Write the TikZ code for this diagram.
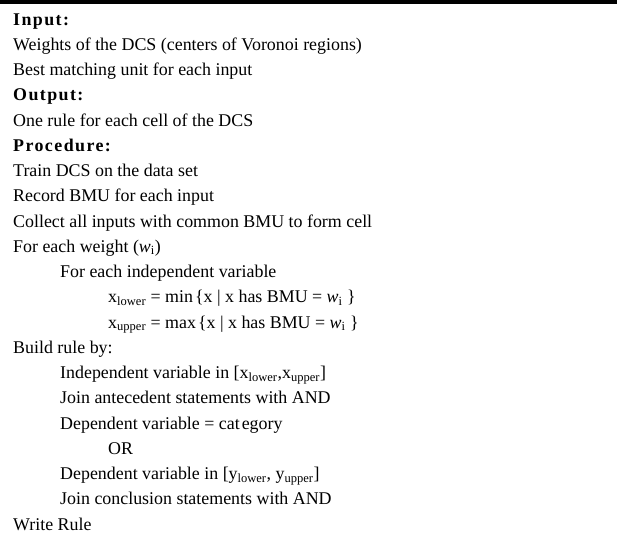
\documentclass[tikz,border=0pt]{standalone}
\usepackage{fontspec}
\setmainfont{Liberation Serif}
\newcommand\hdr[1]{{\bfseries\addfontfeature{LetterSpace=8}#1}}
\newcommand\sbs[1]{\textsubscript{#1}}
\tikzset{
  ln/.style={anchor=base west, inner sep=0pt, font=\fontsize{17.9}{20}\selectfont},
}
\begin{document}
\begin{tikzpicture}[x=1pt,y=1pt]
\useasboundingbox (0,0) rectangle (623,-542);
\fill[black] (0,0) rectangle (617,-3.8);
\def\pitch{25.25}
\def\xa{13}\def\xb{60}\def\xc{108}
\node[ln] (l0)  at (\xa,{-25-0*\pitch})  {\hdr{Input:}};
\node[ln] (l1)  at (\xa,{-25-1*\pitch})  {Weights of the DCS (centers of Voronoi regions)};
\node[ln] (l2)  at (\xa,{-25-2*\pitch})  {Best matching unit for each input};
\node[ln] (l3)  at (\xa,{-25-3*\pitch})  {\hdr{Output:}};
\node[ln] (l4)  at (\xa,{-25-4*\pitch})  {One rule for each cell of the DCS};
\node[ln] (l5)  at (\xa,{-25-5*\pitch})  {\hdr{Procedure:}};
\node[ln] (l6)  at (\xa,{-25-6*\pitch})  {Train DCS on the data set};
\node[ln] (l7)  at (\xa,{-25-7*\pitch})  {Record BMU for each input};
\node[ln] (l8)  at (\xa,{-25-8*\pitch})  {Collect all inputs with common BMU to form cell};
\node[ln] (l9)  at (\xa,{-25-9*\pitch})  {For each weight (\textit{w}\sbs{i})};
\node[ln] (l10) at (\xb,{-25-10*\pitch}) {For each independent variable};
\node[ln] (l11) at (\xc,{-25-11*\pitch}) {x\sbs{lower} = min\kern2pt\{x | x has BMU = \textit{w}\sbs{i} \}};
\node[ln] (l12) at (\xc,{-25-12*\pitch}) {x\sbs{upper} = max\kern2pt\{x | x has BMU = \textit{w}\sbs{i} \}};
\node[ln] (l13) at (\xa,{-25-13*\pitch}) {Build rule by:};
\node[ln] (l14) at (\xb,{-25-14*\pitch}) {Independent variable in [x\sbs{lower},x\sbs{upper}]};
\node[ln] (l15) at (\xb,{-25-15*\pitch}) {Join antecedent statements with AND};
\node[ln] (l16) at (\xb,{-25-16*\pitch}) {Dependent variable = cat\kern2pt egory};
\node[ln] (l17) at (\xc,{-25-17*\pitch}) {OR};
\node[ln] (l18) at (\xb,{-25-18*\pitch}) {Dependent variable in [y\sbs{lower}, y\sbs{upper}]};
\node[ln] (l19) at (\xb,{-25-19*\pitch}) {Join conclusion statements with AND};
\node[ln] (l20) at (\xa,{-25-20*\pitch}) {Write Rule};
\end{tikzpicture}
\end{document}
